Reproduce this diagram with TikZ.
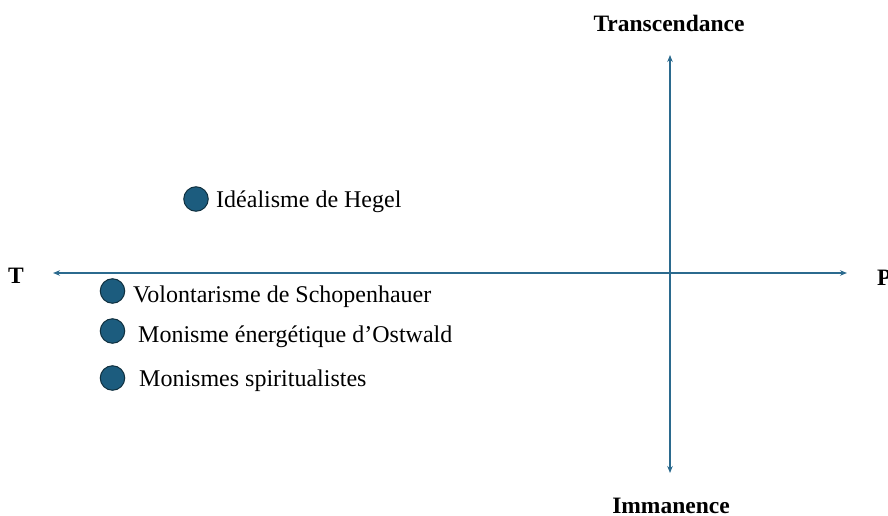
\documentclass[tikz,border=0pt]{standalone}
\usepackage{fontspec}
\setmainfont{Liberation Serif}
\usetikzlibrary{arrows.meta}
\definecolor{axisblue}{HTML}{2B6A8E}
\definecolor{dotfill}{HTML}{1C5C7E}
\definecolor{dotline}{HTML}{10303F}
\begin{document}
\begin{tikzpicture}[x=1pt,y=-1pt,
  axisline/.style={draw=axisblue,line width=1.3pt,-{Stealth[length=7pt,width=5.5pt]}},
  dot/.style={circle,draw=dotline,fill=dotfill,line width=1pt,minimum size=24.5pt,inner sep=0pt},
  lbl/.style={anchor=base west,inner sep=0pt,font=\fontsize{24}{29}\selectfont},
  axlbl/.style={inner sep=0pt,font=\fontsize{23.5}{28}\selectfont\bfseries}]
\useasboundingbox (0,0) rectangle (888,516);
% axes
\coordinate (O) at (670,273);
\coordinate (L) at (53,273);
\coordinate (R) at (847,273);
\coordinate (U) at (670,55);
\coordinate (D) at (670,473);
\draw[axisline] (O) -- (L);
\draw[axisline] (O) -- (R);
\draw[axisline] (O) -- (U);
\draw[axisline] (O) -- (D);
% axis labels
\node[axlbl,anchor=base west] (T) at (8,283) {T};
\node[axlbl,anchor=base west] (P) at (877,285) {P};
\node[axlbl,anchor=base] (Tr) at (669,32) {Transcendance};
\node[axlbl,anchor=base] (Im) at (671,513) {Immanence};
% points
\node[dot] (h) at (196,199) {};
\node[lbl] (hl) at (216,207) {Idéalisme de Hegel};
\node[dot] (s) at (112.5,291) {};
\node[lbl] (sl) at (133,302.5) {Volontarisme de Schopenhauer};
\node[dot] (o) at (112.5,331) {};
\node[lbl] (ol) at (138,342.5) {Monisme énergétique d’Ostwald};
\node[dot] (m) at (112.5,378) {};
\node[lbl] (ml) at (139,386) {Monismes spiritualistes};
\end{tikzpicture}
\end{document}
